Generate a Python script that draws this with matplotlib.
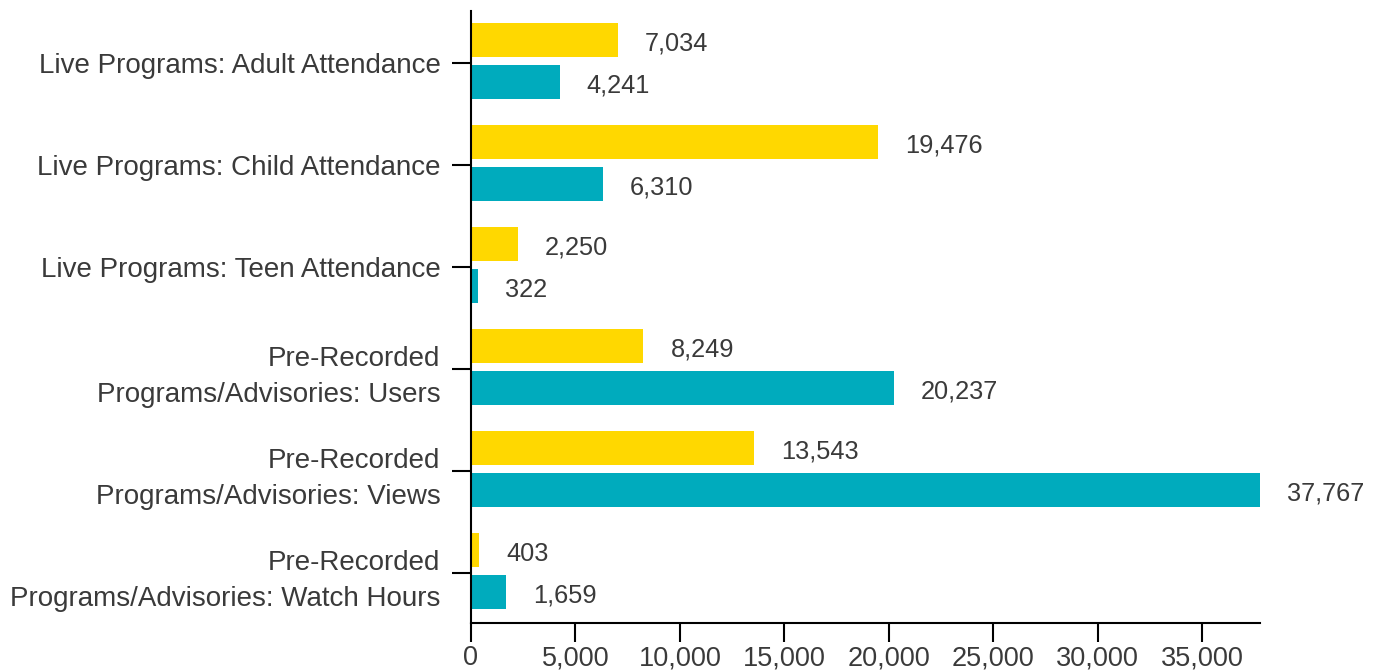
import matplotlib.pyplot as plt
import numpy as np

plt.rcParams['font.family'] = ['Liberation Sans', 'DejaVu Sans']

categories = [
    "Live Programs: Adult Attendance",
    "Live Programs: Child Attendance",
    "Live Programs: Teen Attendance",
    "Pre-Recorded\nPrograms/Advisories: Users",
    "Pre-Recorded\nPrograms/Advisories: Views",
    "Pre-Recorded\nPrograms/Advisories: Watch Hours",
]
yellow_values = [7034, 19476, 2250, 8249, 13543, 403]
teal_values = [4241, 6310, 322, 20237, 37767, 1659]
x_ticks = [0, 5000, 10000, 15000, 20000, 25000, 30000, 35000]

yellow = "#FFD800"
teal = "#00ABBD"
text_color = "#3a3a3a"

fig = plt.figure(figsize=(13.8, 6.7), dpi=100)
ax = fig.add_axes([0.3413, 0.0701, 0.9130 - 0.3413, 0.9836 - 0.0701])

y = np.arange(len(categories))
h = 0.334
ax.barh(y - 0.229, yellow_values, height=h, color=yellow)
ax.barh(y + 0.183, teal_values, height=h, color=teal)

# value labels to the right of each bar
off = 1300
for yi, v in zip(y - 0.229, yellow_values):
    ax.text(v + off, yi + 0.04, f"{v:,}", va="center", ha="left",
            fontsize=18.3, color=text_color)
for yi, v in zip(y + 0.183, teal_values):
    ax.text(v + off, yi + 0.04, f"{v:,}", va="center", ha="left",
            fontsize=18.3, color=text_color)

ax.set_xlim(0, max(teal_values))
ax.set_ylim(5.49, -0.51)
ax.set_yticks(y)
ax.set_yticklabels(categories, fontsize=20, color=text_color, linespacing=1.52)
ax.set_xticks(x_ticks)
ax.set_xticklabels([f"{t:,}" for t in x_ticks], fontsize=19.5, color=text_color)

for s in ["top", "right"]:
    ax.spines[s].set_visible(False)
for s in ["left", "bottom"]:
    ax.spines[s].set_linewidth(1.5)
ax.tick_params(axis="both", length=14, width=1.5, color="black")
ax.tick_params(axis="y", pad=8)
ax.tick_params(axis="x", pad=2)

fig.savefig("out.png", dpi=100)
